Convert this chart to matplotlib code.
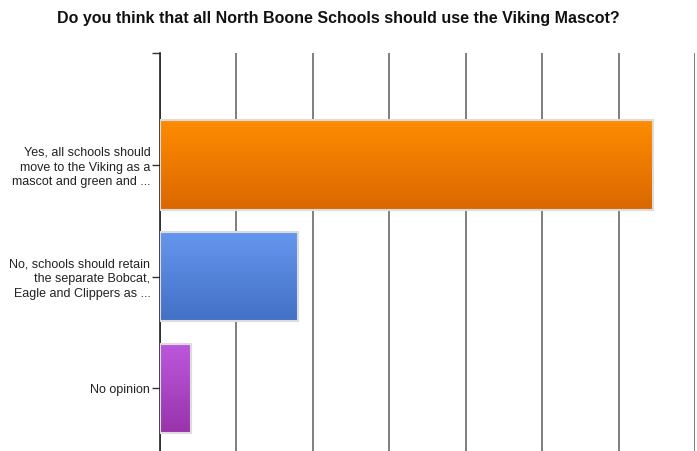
import numpy as np
import matplotlib
matplotlib.use('Agg')
import matplotlib.pyplot as plt
from matplotlib.colors import LinearSegmentedColormap

plt.rcParams['font.family'] = ['Liberation Sans', 'DejaVu Sans']

# ── Data ──────────────────────────────────────────────────────────────
categories = [
    'Yes, all schools should\nmove to the Viking as a\nmascot and green and ...',
    'No, schools should retain\nthe separate Bobcat,\nEagle and Clippers as ...',
    'No opinion',
]
values = [64.5, 18.1, 4.1]
title = 'Do you think that all North Boone Schools should use the Viking Mascot?'

# gradient (top, bottom) per bar
grads = [('#FF8C00', '#DA6700'),
         ('#6697EE', '#4270C6'),
         ('#BD58DE', '#9833AB')]

fig = plt.figure(figsize=(6.97, 4.51), dpi=100)
ax = fig.add_axes([160 / 697, 0.0, 535 / 697, 1 - 53 / 451])

BAR_H = 0.8
ypos = np.arange(len(categories))
bars = ax.barh(ypos, values, height=BAR_H, color='none',
               edgecolor='#DCDCDC', linewidth=1.5, zorder=4)

grad = np.linspace(0, 1, 256).reshape(-1, 1)
for b, (top, bot) in zip(bars, grads):
    cmap = LinearSegmentedColormap.from_list('g', [top, bot])
    x0, y0 = b.get_x(), b.get_y()
    w, h = b.get_width(), b.get_height()
    im = ax.imshow(grad, cmap=cmap, aspect='auto', zorder=3,
                   extent=(x0, x0 + w, y0 + h, y0), origin='upper')
    im.set_clip_path(b)

ax.set_xlim(0, 70)
ax.set_ylim(2.56, -1.0)
ax.set_xticks(np.arange(0, 71, 10))
ax.xaxis.grid(True, color='#7F7F7F', lw=1.4, zorder=1)
ax.tick_params(axis='x', length=0, labelbottom=False)

ax.set_yticks(list(ypos) + [-1.0])
ax.set_yticklabels(categories + [''], fontsize=9.0, color='#222222',
                   linespacing=1.3)
ax.tick_params(axis='y', length=6, width=1, color='#333333', pad=1)

for s in ['top', 'right', 'bottom']:
    ax.spines[s].set_visible(False)
ax.spines['left'].set_color('#222222')
ax.spines['left'].set_linewidth(1.2)

fig.text(338 / 697, 1 - 19 / 451, title, ha='center', va='center',
         fontsize=11.5, fontweight='bold', color='#111111')

fig.savefig('out.png', dpi=100)
